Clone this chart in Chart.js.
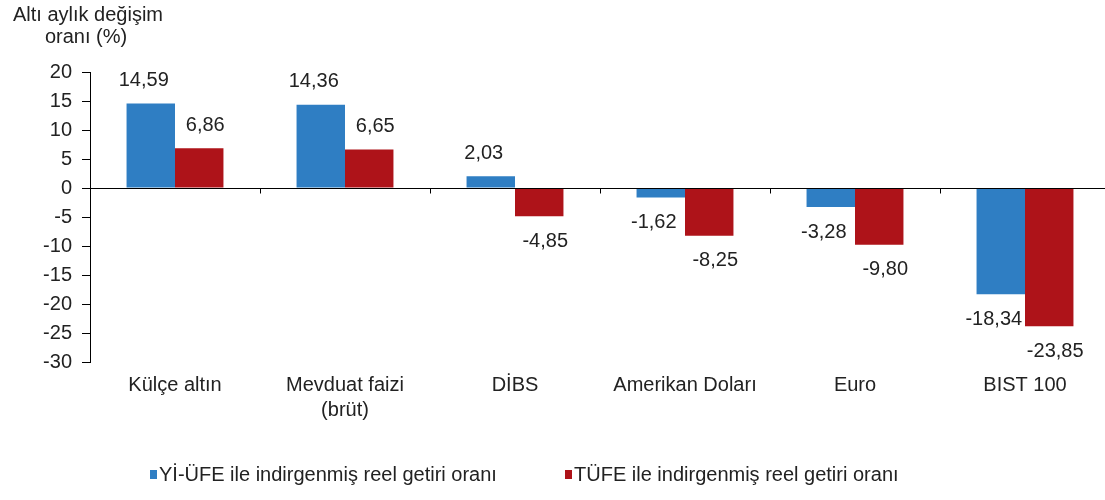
<!DOCTYPE html>
<html lang="tr">
<head>
<meta charset="utf-8">
<title>Altı aylık reel getiri oranları</title>
<script src="https://cdn.jsdelivr.net/npm/chart.js@4.4.1/dist/chart.umd.min.js"></script>
<style>
    body { margin: 0; background: #fff; }
    #wrap { position: relative; width: 1105px; height: 500px; overflow: hidden; }
    #legend {
        position: absolute; left: 0; top: 463px; width: 1105px; height: 26px;
        font-family: "Liberation Sans", Arial, sans-serif; font-size: 20px; color: #222;
    }
    .legend-item { position: absolute; top: 0; display: flex; align-items: center; white-space: nowrap; }
    .legend-box { width: 7px; height: 9px; margin-right: 2px; }
</style>
</head>
<body>
<div id="wrap">
    <!-- canvas a little wider than the view: the plot runs past the right edge, as in the original crop -->
    <canvas id="chart" width="1116" height="500"></canvas>
    <div id="legend"></div>
</div>
<script>
// Data
const categories = ['Külçe altın', ['Mevduat faizi', '(brüt)'], 'DİBS', 'Amerikan Doları', 'Euro', 'BIST 100'];
const yiufeReturns = [14.59, 14.36, 2.03, -1.62, -3.28, -18.34];
const tufeReturns = [6.86, 6.65, -4.85, -8.25, -9.80, -23.85];
const seriesNames = ['Yİ-ÜFE ile indirgenmiş reel getiri oranı', 'TÜFE ile indirgenmiş reel getiri oranı'];
const yTicks = [20, 15, 10, 5, 0, -5, -10, -15, -20, -25, -30];
const titleLines = ['Altı aylık değişim', 'oranı (%)'];

const FONT = '"Liberation Sans", Arial, sans-serif';
const TEXT_COLOR = '#222';
const BLUE = '#2F7EC3';
const RED = '#AE1319';

// Value labels above / below bars (blue ones sit a bit left, red ones a bit right)
const labelShiftX = [-7, 6];
const valueLabels = {
    id: 'valueLabels',
    afterDatasetsDraw(chart) {
        const ctx = chart.ctx;
        ctx.save();
        ctx.font = '20px ' + FONT;
        ctx.fillStyle = TEXT_COLOR;
        ctx.textAlign = 'center';
        ctx.textBaseline = 'middle';
        chart.data.datasets.forEach((dataset, i) => {
            chart.getDatasetMeta(i).data.forEach((bar, j) => {
                const value = dataset.data[j];
                const y = value >= 0 ? bar.y - 23 : bar.y + 25;
                ctx.fillText(value.toFixed(2).replace('.', ','), bar.x + labelShiftX[i], y);
            });
        });
        ctx.restore();
    },
};

// Zero line with category tick marks, and the axis title
const zeroAxis = {
    id: 'zeroAxis',
    afterDatasetsDraw(chart) {
        const ctx = chart.ctx;
        const x = chart.scales.x;
        const y0 = Math.round(chart.scales.y.getPixelForValue(0)) + 0.5;
        ctx.save();
        ctx.strokeStyle = '#000';
        ctx.lineWidth = 1;
        ctx.beginPath();
        ctx.moveTo(chart.chartArea.left, y0);
        ctx.lineTo(chart.chartArea.right, y0);
        for (let i = 0; i < categories.length - 1; i++) {
            const tx = Math.round((x.getPixelForValue(i) + x.getPixelForValue(i + 1)) / 2) + 0.5;
            ctx.moveTo(tx, y0);
            ctx.lineTo(tx, y0 + 5);
        }
        ctx.stroke();
        ctx.restore();
    },
    afterDraw(chart) {
        const ctx = chart.ctx;
        ctx.save();
        ctx.font = '20px ' + FONT;
        ctx.fillStyle = TEXT_COLOR;
        ctx.textAlign = 'center';
        ctx.textBaseline = 'middle';
        ctx.fillText(titleLines[0], 88, 15);
        ctx.fillText(titleLines[1], 86, 37);
        ctx.restore();
    },
};

const chart = new Chart(document.getElementById('chart'), {
    type: 'bar',
    data: {
        labels: categories,
        datasets: [
            { label: seriesNames[0], data: yiufeReturns, backgroundColor: BLUE },
            { label: seriesNames[1], data: tufeReturns, backgroundColor: RED },
        ],
    },
    options: {
        responsive: false,
        animation: false,
        layout: { padding: { top: 72, left: 0, right: 6, bottom: 78 } },
        datasets: {
            bar: { categoryPercentage: 0.57, barPercentage: 1.0 },
        },
        scales: {
            x: {
                grid: { display: false, drawTicks: false },
                border: { display: false },
                ticks: {
                    padding: 11,
                    color: TEXT_COLOR,
                    font: { family: FONT, size: 20, lineHeight: 1.25 },
                    maxRotation: 0,
                    autoSkip: false,
                },
                afterFit(scale) { scale.height = 60; },
            },
            y: {
                min: -30,
                max: 20,
                afterBuildTicks(scale) { scale.ticks = yTicks.map((v) => ({ value: v })); },
                grid: { drawOnChartArea: false, drawTicks: true, tickLength: 8, color: '#000' },
                border: { display: true, color: '#000' },
                ticks: {
                    padding: 10,
                    color: TEXT_COLOR,
                    font: { family: FONT, size: 20 },
                },
                afterFit(scale) { scale.width = 90; },
            },
        },
        plugins: {
            legend: { display: false },
            tooltip: { enabled: false },
        },
    },
    plugins: [valueLabels, zeroAxis],
});

// HTML legend built from the chart's datasets
const legendEl = document.getElementById('legend');
const legendLefts = [150, 565];
chart.data.datasets.forEach((dataset, i) => {
    const item = document.createElement('div');
    item.className = 'legend-item';
    item.style.left = legendLefts[i] + 'px';
    item.innerHTML = `<span class="legend-box" style="background:${dataset.backgroundColor}"></span><span>${dataset.label}</span>`;
    legendEl.appendChild(item);
});
</script>
</body>
</html>
